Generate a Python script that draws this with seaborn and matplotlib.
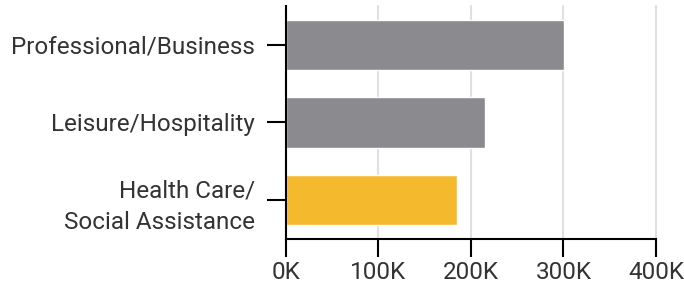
import seaborn as sns
import pandas as pd
import matplotlib.pyplot as plt
from matplotlib.ticker import FuncFormatter

industries = ['Professional/Business', 'Leisure/Hospitality', 'Health Care/\nSocial Assistance']
jobs = [301000, 215000, 184500]
colors = ['#8b8a8f', '#8b8a8f', '#f5b92d']
x_ticks = [0, 100000, 200000, 300000, 400000]

df = pd.DataFrame({'industry': industries, 'jobs': jobs})

sns.set_style('white')
plt.rcParams['font.family'] = ['Roboto', 'DejaVu Sans']

fig = plt.figure(figsize=(6.84, 2.86), dpi=100)
ax = fig.add_axes([0.418, 0.165, 0.541, 0.814])

sns.barplot(data=df, x='jobs', y='industry', hue='industry', palette=colors,
            orient='h', width=0.65, legend=False, saturation=1, ax=ax)

ax.set_xlim(0, 400000)
ax.set_ylim(2.5, -0.5)
ax.set_xticks(x_ticks)
ax.xaxis.set_major_formatter(FuncFormatter(lambda v, p: f'{int(v / 1000)}K'))
ax.grid(axis='x', color='#e0e0e0', linewidth=1.5)
ax.grid(axis='y', visible=False)
ax.set_axisbelow(True)
for gl in ax.get_xgridlines():
    gl.set_clip_on(False)

ax.set_xlabel('')
ax.set_ylabel('')
for s in ['top', 'right']:
    ax.spines[s].set_visible(False)
for s in ['left', 'bottom']:
    ax.spines[s].set_color('black')
    ax.spines[s].set_linewidth(1.5)

ax.tick_params(axis='x', length=13, width=1.5, color='black', pad=3,
               labelsize=17.5, labelcolor='#333333', bottom=True)
ax.tick_params(axis='y', length=14, width=1.5, color='black', pad=8,
               labelsize=17.5, labelcolor='#333333', left=True)
for lbl in ax.get_yticklabels():
    lbl.set_linespacing(1.45)

fig.savefig('out.png', dpi=100)
